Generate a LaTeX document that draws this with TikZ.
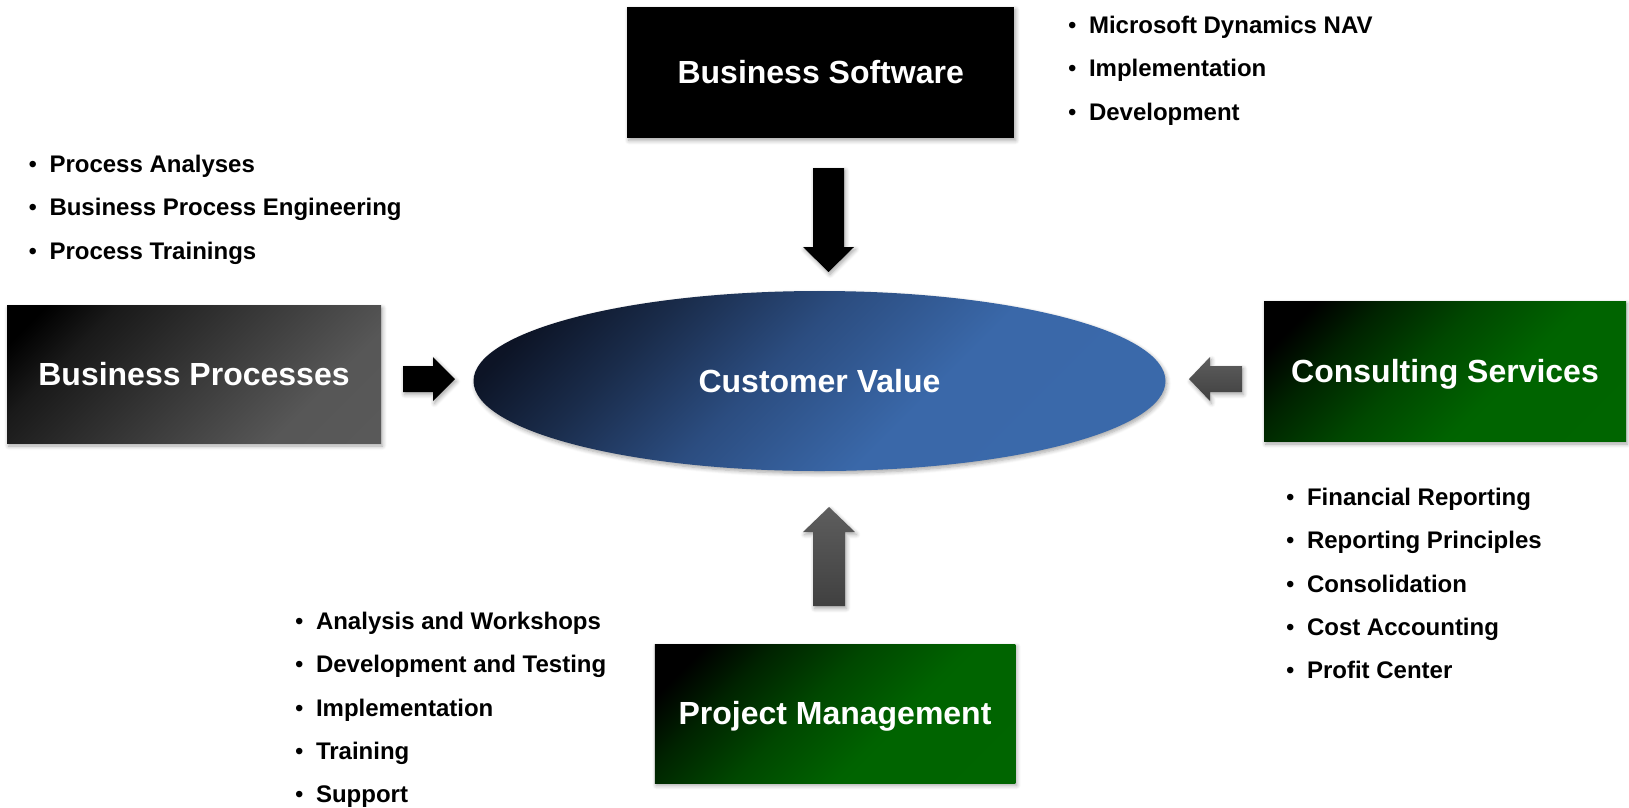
\documentclass[tikz,border=0pt]{standalone}
\usepackage{fontspec}
\setmainfont{Liberation Sans}
\usetikzlibrary{shadows.blur,shapes.geometric}
\definecolor{arrg1}{HTML}{5E5E5E}
\definecolor{arrg2}{HTML}{404040}
\pgfdeclareverticalshading{greenshade}{100bp}{%
  rgb(0bp)=(0,0.40,0);
  rgb(40bp)=(0,0.39,0);
  rgb(55bp)=(0,0.28,0);
  rgb(68bp)=(0,0.14,0);
  rgb(78bp)=(0,0,0);
  rgb(100bp)=(0,0,0)}
\pgfdeclareverticalshading{grayshade}{100bp}{%
  rgb(0bp)=(0.36,0.36,0.36);
  rgb(30bp)=(0.34,0.34,0.34);
  rgb(50bp)=(0.22,0.22,0.22);
  rgb(70bp)=(0.1,0.1,0.1);
  rgb(80bp)=(0,0,0);
  rgb(100bp)=(0,0,0)}
\pgfdeclareverticalshading{blueshade}{100bp}{%
  rgb(0bp)=(0.231,0.416,0.671);
  rgb(40bp)=(0.227,0.408,0.663);
  rgb(55bp)=(0.17,0.30,0.50);
  rgb(68bp)=(0.10,0.17,0.29);
  rgb(78bp)=(0.05,0.08,0.15);
  rgb(100bp)=(0.05,0.08,0.15)}
\begin{document}
\begin{tikzpicture}[x=1pt,y=-1pt,
  softshadow/.style={blur shadow={shadow blur steps=6, shadow xshift=1.5pt, shadow yshift=-2.5pt, shadow blur radius=4pt, shadow opacity=35}},
  titlebox/.style={rectangle, inner sep=0pt, text=white,
    font=\fontsize{32}{38}\selectfont\bfseries, text height=22.9pt, text depth=0pt, softshadow},
  greenbox/.style={titlebox, shade, shading=greenshade, shading angle=45},
  graybox/.style={titlebox, shade, shading=grayshade, shading angle=45},
  blackbox/.style={titlebox, fill=black},
  cvell/.style={ellipse, inner sep=0pt, text=white, font=\fontsize{32}{38}\selectfont\bfseries,
    text height=22.9pt, text depth=0pt, shade, shading=blueshade, shading angle=45, softshadow},
  item/.style={anchor=west, inner sep=0pt, font=\fontsize{24}{28}\selectfont\bfseries, text height=17.2pt, text depth=0pt},
  blackarrow/.style={fill=black, softshadow},
  grayarrow/.style={top color=arrg1, bottom color=arrg2, softshadow}
]
\useasboundingbox (0,0) rectangle (1629,807);
% ellipse
\node[cvell, minimum width=692pt, minimum height=180pt] (cv) at (819.5,381) {Customer Value};
% boxes
\node[blackbox, minimum width=387pt, minimum height=131pt] (bsw) at (820.7,72.5) {Business Software};
\node[graybox, minimum width=374pt, minimum height=138pt] (bp) at (194,374.5) {Business Processes};
\node[greenbox, minimum width=362pt, minimum height=140.6pt] (cs) at (1445,371.3) {Consulting Services};
\node[greenbox, minimum width=360.5pt, minimum height=139pt] (pm) at (835,713.5) {Project Management};
% arrows
\coordinate (adn) at (828.5,168);
\coordinate (art) at (403,379);
\coordinate (alt) at (1242,379);
\coordinate (aup) at (829,606);
\path[blackarrow] (adn) ++(-15.5,0) -- ++(0,79) -- ++(-10,0) -- (828.5,272) -- (854,247) -- ++(-10,0) -- ++(0,-79) -- cycle;
\path[blackarrow] (art) ++(0,-13) -- ++(30,0) -- ++(0,-9) -- (455,379) -- (433,401) -- ++(0,-9) -- ++(-30,0) -- cycle;
\path[grayarrow] (alt) ++(0,-13) -- ++(-32,0) -- ++(0,-9) -- (1189,379) -- (1210,401) -- ++(0,-9) -- ++(32,0) -- cycle;
\path[grayarrow] (aup) ++(-16,0) -- ++(0,-74) -- ++(-10,0) -- (829,507) -- (855,532) -- ++(-10,0) -- ++(0,74) -- cycle;
% bullet lists
\newcommand{\bul}[1]{\makebox[20.8pt][l]{\mdseries•}#1}
\node[item] (sw1) at (1068,25) {\bul{Microsoft Dynamics NAV}};
\node[item] (sw2) at (1068,68.2) {\bul{Implementation}};
\node[item] (sw3) at (1068,111.4) {\bul{Development}};
\node[item] (bp1) at (28.5,164) {\bul{Process Analyses}};
\node[item] (bp2) at (28.5,207.2) {\bul{Business Process Engineering}};
\node[item] (bp3) at (28.5,250.4) {\bul{Process Trainings}};
\node[item] (cs1) at (1286,497) {\bul{Financial Reporting}};
\node[item] (cs2) at (1286,540.2) {\bul{Reporting Principles}};
\node[item] (cs3) at (1286,583.4) {\bul{Consolidation}};
\node[item] (cs4) at (1286,626.6) {\bul{Cost Accounting}};
\node[item] (cs5) at (1286,669.8) {\bul{Profit Center}};
\node[item] (pm1) at (295,621) {\bul{Analysis and Workshops}};
\node[item] (pm2) at (295,664.2) {\bul{Development and Testing}};
\node[item] (pm3) at (295,707.4) {\bul{Implementation}};
\node[item] (pm4) at (295,750.6) {\bul{Training}};
\node[item] (pm5) at (295,793.8) {\bul{Support}};
\end{tikzpicture}
\end{document}
